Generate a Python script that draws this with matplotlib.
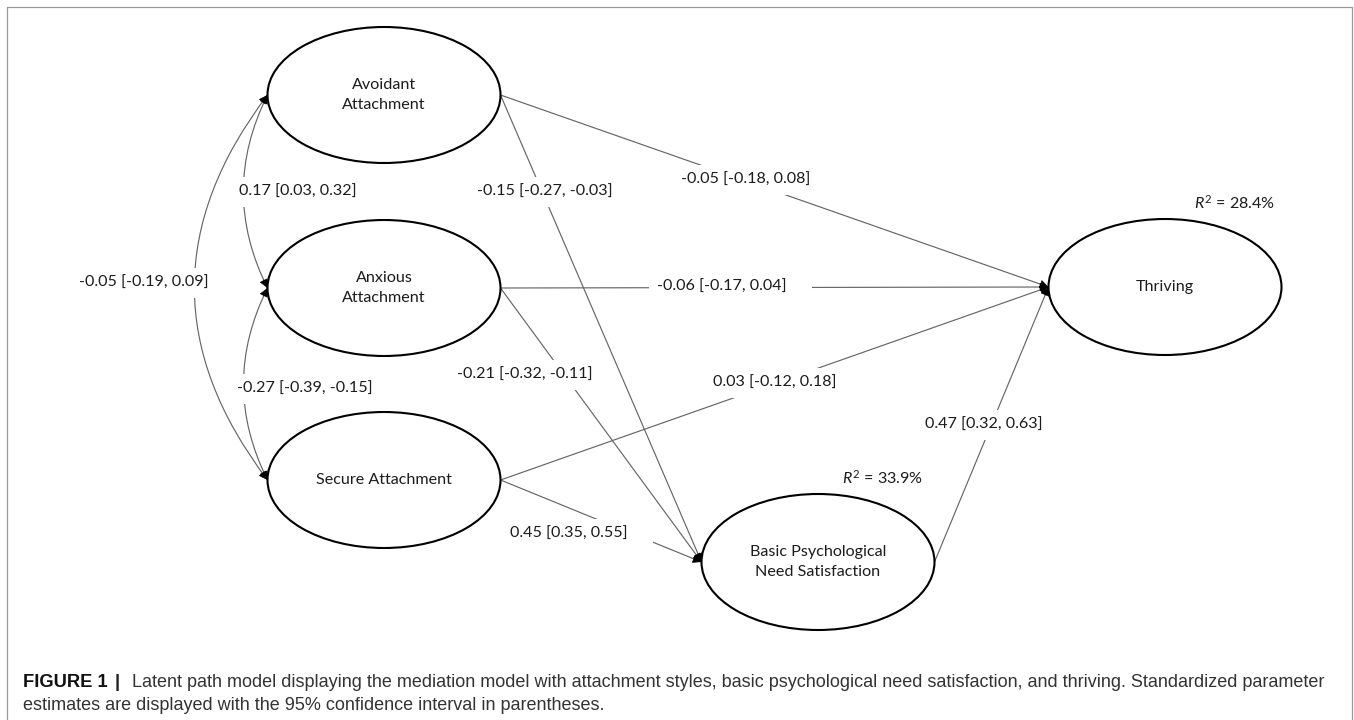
import matplotlib
matplotlib.use("Agg")
import numpy as np
import matplotlib.pyplot as plt
from matplotlib.patches import Ellipse, FancyArrowPatch, PathPatch
from matplotlib.path import Path

plt.rcParams['font.family'] = ['Lato', 'DejaVu Sans']
plt.rcParams['mathtext.fontset'] = 'custom'
plt.rcParams['mathtext.it'] = 'Lato:italic'
plt.rcParams['mathtext.rm'] = 'Lato'

# ---------------- model values ----------------
node_names = ["Avoidant\nAttachment", "Anxious\nAttachment", "Secure Attachment",
              "Basic Psychological\nNeed Satisfaction", "Thriving"]

# directed paths: (from, to, estimate, ci low, ci high)
path_from = [0, 1, 2, 3, 0, 1, 2]
path_to = [4, 4, 4, 4, 3, 3, 3]
path_est = [-0.05, -0.06, 0.03, 0.47, -0.15, -0.21, 0.45]
path_lo = [-0.18, -0.17, -0.12, 0.32, -0.27, -0.32, 0.35]
path_hi = [0.08, 0.04, 0.18, 0.63, -0.03, -0.11, 0.55]

# covariances between attachment styles
cov_a = [0, 1, 0]
cov_b = [1, 2, 2]
cov_est = [0.17, -0.27, -0.05]
cov_lo = [0.03, -0.39, -0.19]
cov_hi = [0.32, -0.15, 0.09]

r2_nodes = [4, 3]
r2_vals = [28.4, 33.9]

caption_line1 = ("Latent path model displaying the mediation model with attachment styles, "
                 "basic psychological need satisfaction, and thriving. Standardized parameter")
caption_line2 = "estimates are displayed with the 95% confidence interval in parentheses."

# ---------------- layout (pixel units) ----------------
W, H = 1354, 720
node_xy = [(384, 95), (384, 288), (384, 480), (818, 562), (1165, 287)]
ell_w, ell_h = 233, 136
path_lab_x = [681, 657, 713, 925, 477, 457, 510]   # left edge of text
path_lab_y = [180, 287, 383, 425, 192, 375, 534]
path_lab_tail = [0, 4, 0, 0, 0, 0, 4]              # extra blank box on the right
cov_lab_xy = [(239, 192), (237, 389), (144, 283)]
cov_lab_ha = ['left', 'left', 'center']
cov_rad = [0.25, 0.25, 0.38]
r2_xy = [(1235, 203), (883, 478)]

LINE = '#666666'
TXT = '#1c1c1c'
FS = 11.6


def fmt(e, lo, hi):
    return f"{e:.2f} [{lo:.2f}, {hi:.2f}]"


fig = plt.figure(figsize=(W / 100, H / 100), dpi=100)
ax = fig.add_axes([0, 0, 1, 1])
ax.set_xlim(0, W)
ax.set_ylim(H, 0)
ax.axis('off')

# frame
ax.plot([7, 7, 1352, 1352], [H, 7, 7, H], color='#9a9a9a', lw=0.9, zorder=0)

# nodes
for (cx, cy), name in zip(node_xy, node_names):
    ax.add_patch(Ellipse((cx, cy), ell_w, ell_h, facecolor='white',
                         edgecolor='black', lw=1.5, zorder=3))
    ax.text(cx, cy, name, ha='center', va='center', fontsize=FS,
            linespacing=1.6, color=TXT, zorder=4)


def left_pt(i):
    return np.array([node_xy[i][0] - ell_w / 2, node_xy[i][1]])


def right_pt(i):
    return np.array([node_xy[i][0] + ell_w / 2, node_xy[i][1]])


def head(tip, towards):
    # small solid black arrowhead at tip, pointing away from 'towards'
    d = towards - tip
    d = d / np.hypot(*d)
    ax.add_patch(FancyArrowPatch(tip + 9 * d, tip, arrowstyle='-|>',
                                 mutation_scale=14, shrinkA=0, shrinkB=0,
                                 lw=0.4, color='black', zorder=1.5))


label_box = dict(facecolor='white', edgecolor='none', pad=6)

# regression paths
for k in range(len(path_est)):
    a = right_pt(path_from[k])
    b = left_pt(path_to[k])
    ax.plot([a[0], b[0]], [a[1], b[1]], color=LINE, lw=0.85, zorder=1)
    head(b, a)
    ax.text(path_lab_x[k], path_lab_y[k],
            fmt(path_est[k], path_lo[k], path_hi[k]) + " " * path_lab_tail[k],
            ha='left', va='center', fontsize=FS, color=TXT, bbox=label_box,
            zorder=2)

# covariances (double headed curves on the left)
for k in range(len(cov_est)):
    a = left_pt(cov_a[k])
    b = left_pt(cov_b[k])
    mid = (a + b) / 2
    dx, dy = b - a
    ctrl = np.array([mid[0] - cov_rad[k] * dy, mid[1] + cov_rad[k] * dx])
    curve = Path([a, ctrl, b], [Path.MOVETO, Path.CURVE3, Path.CURVE3])
    ax.add_patch(PathPatch(curve, facecolor='none', edgecolor=LINE, lw=0.85,
                           zorder=1))
    head(a, ctrl)
    head(b, ctrl)
    x, y = cov_lab_xy[k]
    ax.text(x, y, fmt(cov_est[k], cov_lo[k], cov_hi[k]), ha=cov_lab_ha[k],
            va='center', fontsize=FS, color=TXT, bbox=label_box, zorder=2)

# explained variance
for (x, y), v in zip(r2_xy, r2_vals):
    ax.text(x, y, rf"$R^{{\mathrm{{2}}}}$ = {v:.1f}%", ha='center', va='center',
            fontsize=FS, color=TXT, zorder=4)

# caption
cap_font = ['Liberation Sans', 'DejaVu Sans']
cap_size = 12.4
r = fig.canvas.get_renderer()
ax.text(23, 687, "FIGURE 1", fontsize=13.2, fontweight='bold',
        family=cap_font, va='baseline', ha='left', color='#111111')
ax.text(115, 687, "|", fontsize=13.2, fontweight='bold', family=cap_font,
        va='baseline', ha='left', color='#222222')
t1 = ax.text(132, 687, caption_line1, fontsize=cap_size, family=cap_font,
             va='baseline', ha='left', color='#333333')
w1 = t1.get_window_extent(r).width
t1.set_fontsize(cap_size * (1331 - 132) / w1)
ax.text(23, 710, caption_line2, fontsize=t1.get_fontsize(), family=cap_font,
        va='baseline', ha='left', color='#333333')

fig.savefig("out.png", dpi=100, facecolor='white')
